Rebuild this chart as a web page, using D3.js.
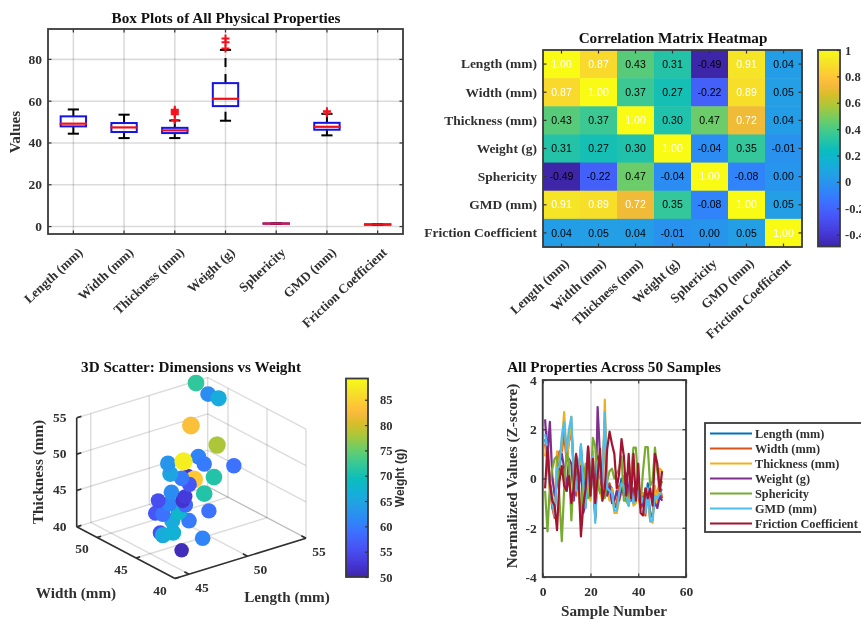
<!DOCTYPE html>
<html>
  <head>
    <meta charset="utf-8">
    <script src="https://d3js.org/d3.v7.min.js"></script>
    <title>Physical Properties Overview</title>
    <style>
      body { margin: 0px; background: #fff; }
      svg { display: block; filter: blur(0.5px); }
      text { font-family: "Liberation Serif", serif; font-weight: bold; fill: #303030; }
      .tick text { font-size: 13.5px; font-family: "Liberation Serif", serif; }
      .bar .tick text { font-size: 12.5px; }
      .title { font-size: 15.2px; fill: #111; text-anchor: middle; }
      .label { font-size: 15.2px; text-anchor: middle; }
      .domain { display: none; }
      .tick line { stroke: #333; stroke-width: 1.2; }
      .grid .tick line { stroke: #000; stroke-opacity: 0.14; stroke-width: 1.6; }
      .grid .tick text { display: none; }
      .frame { fill: none; stroke: #3a3a3a; stroke-width: 1.8; }
      .cell-text { font-family: "Liberation Sans", sans-serif; font-weight: normal; font-size: 10.5px; text-anchor: middle; }
    </style>
  </head>
  <body>
    <div id="viz"></div>
    <script>
      // property names
      const properties = ['Length (mm)', 'Width (mm)', 'Thickness (mm)', 'Weight (g)', 'Sphericity', 'GMD (mm)', 'Friction Coefficient'];

      // box plot summary, one entry per property
      const boxQ1 = [47.7, 45, 44.5, 57.4, 1.15, 46.1, 0.7];
      const boxMedian = [49, 47.2, 45.8, 60.9, 1.2, 47.5, 0.75];
      const boxQ3 = [52.5, 49.3, 47, 68.4, 1.25, 49.4, 0.8];
      const whiskerLow = [44.2, 42.1, 42.1, 50.4, 1.1, 43.4, 0.65];
      const whiskerHigh = [55.8, 53.3, 50.5, 84.3, 1.3, 53.7, 0.85];
      const boxOutliers = [[], [], [50.8, 53.5, 54.2, 55, 55.6], [85, 88, 89.8], [], [54, 55], []];
      const boxTicks = [0, 20, 40, 60, 80];

      // correlation matrix
      const corr = [
        [1.00, 0.87, 0.43, 0.31, -0.49, 0.91, 0.04],
        [0.87, 1.00, 0.37, 0.27, -0.22, 0.89, 0.05],
        [0.43, 0.37, 1.00, 0.30, 0.47, 0.72, 0.04],
        [0.31, 0.27, 0.30, 1.00, -0.04, 0.35, -0.01],
        [-0.49, -0.22, 0.47, -0.04, 1.00, -0.08, 0.00],
        [0.91, 0.89, 0.72, 0.35, -0.08, 1.00, 0.05],
        [0.04, 0.05, 0.04, -0.01, 0.00, 0.05, 1.00]
      ];
      const corrTicks = [-0.4, -0.2, 0, 0.2, 0.4, 0.6, 0.8, 1];

      // 3d scatter samples
      const scatterLength = [46.2, 46.1, 46.9, 48.3, 46.3, 49, 47.7, 48.6, 47.2, 47.5, 50.7, 48.2, 47.9, 49.3, 49.1, 49.2, 49.4, 51.1, 50.9, 50.9, 50.5, 50.7, 49.8, 50, 51.6, 52.2, 51.9, 53.7, 53.8, 51.8, 52.9, 53.7, 54.2, 53.8];
      const scatterWidth = [45.5, 45, 44.9, 43.2, 42.9, 46, 46.2, 46.7, 47.6, 47.1, 46, 47.3, 48.3, 46.9, 48.4, 47.1, 47.1, 47.2, 49, 48.2, 48.2, 49.5, 49.6, 50.2, 48.7, 47.6, 48.4, 47.3, 49.6, 50.9, 51.6, 50.6, 50, 52.3];
      const scatterThickness = [42, 42, 42, 41.5, 41, 42, 42.5, 43, 43, 43, 42.5, 44, 44, 43.5, 44.5, 44, 44.5, 44, 45.5, 45.5, 45, 45, 46, 47, 48, 45.5, 47, 46.5, 48, 46, 50, 54.5, 54, 55];
      const scatterWeight = [55, 66, 67, 61, 51, 60, 66, 68, 56, 59, 59, 61, 55, 58, 62, 52, 53, 71, 52, 84, 56, 60, 65, 63, 61, 71, 60, 59, 78, 88, 83, 62, 66, 72];
      const lengthTicks = [45, 50, 55];
      const widthTicks = [40, 45, 50];
      const thicknessTicks = [40, 45, 50, 55];
      const weightTicks = [50, 55, 60, 65, 70, 75, 80, 85];

      // z-scores per sample
      const zLength = [1.6,1.0,-0.1,-0.8,-1.3,0.2,0.7,1.4,1.9,1.2,1.7,2.1,0.4,-0.3,0.1,1.3,0.1,-0.9,0.3,-0.4,0.7,-1.5,0.9,0.4,-0.1,2.4,-0.2,-0.3,-0.4,-1.0,-1.2,-0.5,0.0,-0.1,-0.5,-0.9,-0.3,-0.8,-0.5,-0.3,-0.8,-0.6,-1.2,-0.2,-1.5,-1.5,-0.5,-0.6,-0.4,-0.5];
      const zWidth = [1.4,0.7,-0.4,-1.2,-1.6,0.6,1.1,1.1,1.8,0.7,1.5,1.9,0.5,-0.7,0.5,1.0,-0.4,-1.1,0.7,-0.8,1.0,-1.6,0.4,0.1,-0.5,2.2,-0.6,-0.2,-0.7,-1.1,-1.0,-0.3,-0.4,0.1,-0.9,-1.0,-0.7,-0.9,-0.3,-0.7,-1.2,-1.0,-1.5,-0.6,-1.6,-1.4,-0.9,-0.5,-0.3,-0.8];
      const zThickness = [0.9,1.9,-0.4,-0.7,-1.2,1.1,-0.1,1.5,2.7,0.8,1.5,2.5,-0.4,0.5,0.3,1.0,-0.7,-0.8,0.1,-0.9,1.1,-1.7,0.1,-0.5,-0.9,3.2,-0.5,-0.9,-0.4,-1.4,-1.4,-0.9,-0.6,-0.1,-0.6,-1.1,-0.2,-1.1,-1.0,-0.2,-0.7,-0.6,-1.0,-0.8,-1.7,-1.8,-0.3,-1.1,0.4,0.3];
      const zWeight = [2.4,0.9,2.3,0.1,-0.7,-0.2,0.6,1.0,0.4,-0.5,0.8,0.6,-0.9,0.9,-0.4,0.5,-1.4,-1.0,1.3,0.1,0.6,-1.6,2.9,0.9,-0.6,-0.2,-0.7,-0.3,-1.0,-0.9,-0.5,-0.9,-0.4,-0.7,0.2,-0.5,-0.9,-0.4,-0.6,-0.3,-1.0,-1.1,-0.5,-0.4,-0.6,-0.9,-1.0,-1.2,-0.7,-0.9];
      const zSphericity = [-0.5,-2.15,-0.3,0.4,0.8,0.9,-0.8,-2.55,-0.4,1.1,0.7,-1.7,0.2,0.9,-0.1,-1.7,-0.1,0.6,-0.8,-0.7,1.65,1.3,-0.2,-0.6,-0.3,-0.8,-0.1,0.3,0.4,0.0,0.2,0.4,0.9,-0.9,-0.9,-1.1,0.2,1.25,1.25,-0.2,-1.0,0.3,1.28,1.28,-0.3,-0.1,1.25,0.3,-0.4,-0.1];
      const zGmd = [1.8,1.2,-0.3,-1.0,-1.5,0.4,0.5,1.7,2.3,1.1,2.0,2.5,0.2,-0.5,0.3,1.4,-0.2,-1.2,0.5,-0.6,0.9,-1.8,0.7,0.2,-0.3,2.7,-0.4,-0.5,-0.6,-1.3,-1.3,-0.6,-0.2,-0.3,-0.7,-1.1,-0.5,-1.0,-0.7,-0.5,-1.0,-0.8,-1.4,-0.4,-1.75,-1.7,-0.7,-0.8,-0.6,-0.6];
      const zFriction = [-0.4,1.3,-0.2,-0.9,-1.1,-2.1,-0.1,0.5,-0.3,-0.5,0.1,-1.0,-0.4,1.0,0.1,-2.35,-1.1,-0.4,1.3,-0.7,0.8,-1.0,0.1,1.2,-0.9,-0.4,1.2,1.9,1.4,1.0,-0.4,0.2,1.6,0.9,-0.7,1.0,-0.8,1.0,-0.9,0.6,-1.4,-1.5,-0.4,-0.8,-0.4,-1.1,1.0,0.6,-0.5,0.3];
      const lineColors = ['#0072BD', '#D95319', '#EDB120', '#7E2F8E', '#77AC30', '#4DBEEE', '#A2142F'];

      // parula colormap samples
      const parulaStops = [
        [0.2422,0.1504,0.6603],[0.2706,0.2147,0.8364],[0.2810,0.3228,0.9579],[0.2440,0.4358,0.9988],
        [0.1786,0.5289,0.9682],[0.1380,0.6276,0.8973],[0.0689,0.6948,0.8394],[0.0433,0.7411,0.7394],
        [0.2161,0.7843,0.5923],[0.3909,0.8029,0.4354],[0.6720,0.7793,0.2227],[0.8634,0.7406,0.1596],
        [0.9728,0.7298,0.2394],[0.9970,0.7659,0.2199],[0.9786,0.8386,0.1766],[0.9597,0.9135,0.1423],[0.9769,0.9839,0.0805]
      ];
      const parulaPos = [0, 4, 9, 14, 18, 23, 27, 31, 36, 40, 45, 49, 52, 54, 57, 60, 63].map(i => i / 63);
      const parula = d3.scaleLinear()
        .domain(parulaPos)
        .range(parulaStops.map(c => d3.rgb(c[0] * 255, c[1] * 255, c[2] * 255)))
        .interpolate(d3.interpolateRgb);

      const svg = d3.select('#viz').append('svg')
        .attr('width', 861)
        .attr('height', 619);

      // band scales have no tick list of their own, so ticks stays null for them
      const axisOf = (fn, scale, ticks) => {
        const a = fn(scale);
        return ticks ? a.tickValues(ticks) : a;
      };

      // grid lines behind a 2d axes
      const axesGrid = (x, y, xTicks, yTicks) => {
        const [x0, x1] = x.range();
        const [y0, y1] = d3.extent(y.range());
        const g = svg.append('g');
        g.append('g').attr('class', 'grid').attr('transform', `translate(0,${y1})`)
          .call(axisOf(d3.axisBottom, x, xTicks).tickSize(-(y1 - y0)).tickFormat(''));
        g.append('g').attr('class', 'grid').attr('transform', `translate(${x0},0)`)
          .call(axisOf(d3.axisLeft, y, yTicks).tickSize(-(x1 - x0)).tickFormat(''));
        return g;
      };

      // box outline, labels and inward ticks on all four sides
      const axesTicks = (g, x, y, xTicks, yTicks) => {
        const [x0, x1] = x.range();
        const [y0, y1] = d3.extent(y.range());
        const b = g.append('g').attr('transform', `translate(0,${y1})`)
          .call(axisOf(d3.axisBottom, x, xTicks).tickSizeInner(-3.5).tickSizeOuter(0).tickPadding(9).tickFormat(d => d));
        const l = g.append('g').attr('transform', `translate(${x0},0)`)
          .call(axisOf(d3.axisLeft, y, yTicks).tickSizeInner(-3.5).tickSizeOuter(0).tickPadding(6).tickFormat(d => d));
        g.append('g').attr('transform', `translate(0,${y0})`)
          .call(axisOf(d3.axisTop, x, xTicks).tickSizeInner(-3.5).tickSizeOuter(0).tickFormat(''));
        g.append('g').attr('transform', `translate(${x1},0)`)
          .call(axisOf(d3.axisRight, y, yTicks).tickSizeInner(-3.5).tickSizeOuter(0).tickFormat(''));
        g.append('rect').attr('class', 'frame')
          .attr('x', x0).attr('y', y0).attr('width', x1 - x0).attr('height', y1 - y0);
        return { b, l };
      };

      const slantLabels = (sel, dx, dy) => {
        sel.selectAll('text')
          .attr('text-anchor', 'end')
          .style('font-size', '13.2px')
          .attr('transform', `translate(${dx},${dy}) rotate(-43)`)
          .attr('x', 0).attr('y', 0).attr('dy', '0.35em');
      };

      /* ---- box plots ---- */
      const boxX = d3.scaleBand().domain(properties).range([48, 403]);
      const boxY = d3.scaleLinear().domain([-3.8, 94.3]).range([234, 29]);
      const boxG = axesGrid(boxX, boxY, null, boxTicks);

      properties.forEach((p, i) => {
        const cx = boxX(p) + boxX.bandwidth() / 2;
        const hw = boxX.bandwidth() / 4;
        const cap = hw * 0.44;
        const whisk = boxG.append('g').attr('stroke', '#000').attr('stroke-width', 2);
        whisk.append('line').attr('x1', cx).attr('x2', cx)
          .attr('y1', boxY(boxQ3[i])).attr('y2', boxY(whiskerHigh[i]))
          .attr('stroke-dasharray', '9 7');
        whisk.append('line').attr('x1', cx).attr('x2', cx)
          .attr('y1', boxY(whiskerLow[i])).attr('y2', boxY(boxQ1[i]))
          .attr('stroke-dasharray', '9 7');
        [whiskerLow[i], whiskerHigh[i]].forEach(v => {
          whisk.append('line').attr('x1', cx - cap).attr('x2', cx + cap)
            .attr('y1', boxY(v)).attr('y2', boxY(v));
        });
        boxG.append('rect')
          .attr('x', cx - hw).attr('width', hw * 2)
          .attr('y', boxY(boxQ3[i])).attr('height', boxY(boxQ1[i]) - boxY(boxQ3[i]))
          .attr('fill', 'none').attr('stroke', '#1414e6').attr('stroke-width', 2);
        boxG.append('line')
          .attr('x1', cx - hw - 1).attr('x2', cx + hw + 1)
          .attr('y1', boxY(boxMedian[i])).attr('y2', boxY(boxMedian[i]))
          .attr('stroke', '#f0101c').attr('stroke-width', 2.2);
        boxOutliers[i].forEach(v => {
          const oy = boxY(v);
          boxG.append('path')
            .attr('d', `M${cx - 4},${oy}H${cx + 4}M${cx},${oy - 4}V${oy + 4}`)
            .attr('stroke', '#f5101c').attr('stroke-width', 2);
        });
      });
      const boxAxes = axesTicks(boxG, boxX, boxY, null, boxTicks);
      slantLabels(boxAxes.b, 7, 16);
      svg.append('text').attr('class', 'title').attr('x', 226).attr('y', 23).text('Box Plots of All Physical Properties');
      svg.append('text').attr('class', 'label').attr('transform', 'translate(20,132) rotate(-90)').text('Values');

      /* ---- correlation heatmap ---- */
      const heatX = d3.scaleBand().domain(properties).range([543, 802]);
      const heatY = d3.scaleBand().domain(properties).range([50, 247]);
      const heatColor = d3.scaleLinear().domain([-0.49, 1]).range([0, 1]);
      const heatG = svg.append('g');
      corr.forEach((row, r) => row.forEach((v, c) => {
        heatG.append('rect')
          .attr('x', heatX(properties[c])).attr('y', heatY(properties[r]))
          .attr('width', heatX.bandwidth() + 0.5).attr('height', heatY.bandwidth() + 0.5)
          .attr('fill', parula(heatColor(v)));
        heatG.append('text').attr('class', 'cell-text')
          .attr('x', heatX(properties[c]) + heatX.bandwidth() / 2)
          .attr('y', heatY(properties[r]) + heatY.bandwidth() / 2)
          .attr('dy', '0.35em')
          .style('fill', v > 0.5 ? '#fff' : '#000')
          .text(v.toFixed(2));
      }));
      const heatAxes = axesTicks(heatG, heatX, heatY, null, null);
      slantLabels(heatAxes.b, 5, 14);
      svg.append('text').attr('class', 'title').attr('x', 673).attr('y', 43).text('Correlation Matrix Heatmap');

      // vertical colorbar sharing parula
      const colorBar = (id, x0, x1, scale, ticks, pad) => {
        const [y1, y0] = scale.range();
        const grad = svg.append('defs').append('linearGradient').attr('id', id)
          .attr('x1', 0).attr('x2', 0).attr('y1', 1).attr('y2', 0);
        parulaPos.forEach(t => grad.append('stop').attr('offset', t).attr('stop-color', parula(t)));
        const g = svg.append('g').attr('class', 'bar');
        g.append('rect').attr('x', x0).attr('y', y0).attr('width', x1 - x0).attr('height', y1 - y0)
          .attr('fill', `url(#${id})`).attr('stroke', '#3a3a3a').attr('stroke-width', 1.8);
        g.append('g').attr('transform', `translate(${x1},0)`)
          .call(d3.axisRight(scale).tickValues(ticks).tickSizeInner(-3).tickSizeOuter(0).tickPadding(pad).tickFormat(d => d));
      };
      colorBar('corr-grad', 818, 840, d3.scaleLinear().domain([-0.49, 1]).range([246.5, 50]), corrTicks, 5);

      /* ---- 3d scatter ---- */
      const lenX = d3.scaleLinear().domain([43.8, 55]).range([0, 131]);
      const lenY = d3.scaleLinear().domain([43.8, 55]).range([0, -40.3]);
      const widX = d3.scaleLinear().domain([40, 52.6]).range([0, -98.3]);
      const widY = d3.scaleLinear().domain([40, 52.6]).range([0, -51.7]);
      const thkY = d3.scaleLinear().domain([40, 55]).range([0, -109]);
      const project = (l, w, t) => [175 + lenX(l) + widX(w), 578.5 + lenY(l) + widY(w) + thkY(t)];
      const [lMin, lMax] = lenX.domain();
      const [wMin, wMax] = widX.domain();
      const [tMin, tMax] = thkY.domain();
      const seg = (g, a, b) => g.append('line')
        .attr('x1', a[0]).attr('y1', a[1]).attr('x2', b[0]).attr('y2', b[1]);

      const wallG = svg.append('g').attr('stroke', '#000').attr('stroke-opacity', 0.14).attr('stroke-width', 1.4);
      lengthTicks.forEach(l => {
        seg(wallG, project(l, wMin, tMin), project(l, wMax, tMin));
        seg(wallG, project(l, wMax, tMin), project(l, wMax, tMax));
      });
      widthTicks.forEach(w => {
        seg(wallG, project(lMin, w, tMin), project(lMax, w, tMin));
        seg(wallG, project(lMax, w, tMin), project(lMax, w, tMax));
      });
      thicknessTicks.forEach(t => {
        seg(wallG, project(lMin, wMax, t), project(lMax, wMax, t));
        seg(wallG, project(lMax, wMax, t), project(lMax, wMin, t));
      });

      // marker size follows weight as well as colour
      const weightColor = d3.scaleLinear().domain([50, 89.2]).range([0, 1]);
      const weightSize = d3.scaleSqrt().domain([50, 89.2]).range([7.2, 9.2]);
      svg.append('g').selectAll('circle').data(scatterWeight).enter().append('circle')
        .attr('cx', (d, i) => project(scatterLength[i], scatterWidth[i], scatterThickness[i])[0])
        .attr('cy', (d, i) => project(scatterLength[i], scatterWidth[i], scatterThickness[i])[1])
        .attr('r', d => weightSize(d))
        .attr('fill', d => parula(weightColor(d)));

      const edgeG = svg.append('g').attr('stroke', '#2f2f2f').attr('stroke-width', 1.6);
      seg(edgeG, project(lMin, wMin, tMin), project(lMax, wMin, tMin));
      seg(edgeG, project(lMin, wMin, tMin), project(lMin, wMax, tMin));
      seg(edgeG, project(lMin, wMax, tMin), project(lMin, wMax, tMax));
      lengthTicks.forEach(l => seg(edgeG, project(l, wMin, tMin), project(l, wMin + 0.6, tMin)));
      widthTicks.forEach(w => seg(edgeG, project(lMin, w, tMin), project(lMin + 0.35, w, tMin)));
      thicknessTicks.forEach(t => seg(edgeG, project(lMin, wMax, t), project(lMin + 0.4, wMax, t)));

      const tick3d = (p, dx, dy, txt) => svg.append('text')
        .attr('x', p[0] + dx).attr('y', p[1] + dy).attr('text-anchor', 'middle')
        .style('font-size', '13.5px').text(txt);
      lengthTicks.forEach(l => tick3d(project(l, wMin, tMin), 13, 18, l));
      widthTicks.forEach(w => tick3d(project(lMin, w, tMin), -15, 16, w));
      thicknessTicks.forEach(t => tick3d(project(lMin, wMax, t), -17, 4, t));
      svg.append('text').attr('class', 'title').attr('x', 191).attr('y', 372).text('3D Scatter: Dimensions vs Weight');
      svg.append('text').attr('class', 'label').attr('x', 76).attr('y', 598).text('Width (mm)');
      svg.append('text').attr('class', 'label').attr('x', 287).attr('y', 602).text('Length (mm)');
      svg.append('text').attr('class', 'label').attr('transform', 'translate(43,472) rotate(-90)').text('Thickness (mm)');

      colorBar('weight-grad', 346, 368, d3.scaleLinear().domain([50, 89.2]).range([577, 378.5]), weightTicks, 12);
      svg.append('text').attr('class', 'label').attr('transform', 'translate(404,478) rotate(-90)')
        .style('font-family', '"Liberation Sans", sans-serif').style('font-size', '12px').text('Weight (g)');

      /* ---- z-score lines ---- */
      const series = [zLength, zWidth, zThickness, zWeight, zSphericity, zGmd, zFriction];
      const lineX = d3.scaleLinear().domain([0, 60]).range([542.7, 686]);
      const lineY = d3.scaleLinear().domain([-4, 4]).range([577, 380]);
      const lineXTicks = [0, 20, 40, 60];
      const lineYTicks = [-4, -2, 0, 2, 4];
      const lineG = axesGrid(lineX, lineY, lineXTicks, lineYTicks);
      const lineGen = d3.line().x((d, i) => lineX(i + 1)).y(d => lineY(d));
      series.forEach((s, i) => {
        lineG.append('path').datum(s).attr('d', lineGen)
          .attr('fill', 'none').attr('stroke', lineColors[i]).attr('stroke-width', 2.2).attr('stroke-linejoin', 'round');
      });
      axesTicks(lineG, lineX, lineY, lineXTicks, lineYTicks);
      svg.append('text').attr('class', 'title').attr('x', 614).attr('y', 372).text('All Properties Across 50 Samples');
      svg.append('text').attr('class', 'label').attr('x', 614).attr('y', 616).text('Sample Number');
      svg.append('text').attr('class', 'label').attr('transform', 'translate(517,476) rotate(-90)').text('Normalized Values (Z-score)');

      /* ---- legend ---- */
      const legendY = d3.scalePoint().domain(properties).range([433.5, 523.5]);
      const legendG = svg.append('g');
      legendG.append('rect').attr('class', 'frame').attr('x', 705).attr('y', 423).attr('width', 170).attr('height', 109);
      properties.forEach((p, i) => {
        legendG.append('line').attr('x1', 710).attr('x2', 752)
          .attr('y1', legendY(p)).attr('y2', legendY(p))
          .attr('stroke', lineColors[i]).attr('stroke-width', 2);
        legendG.append('text').attr('x', 755).attr('y', legendY(p)).attr('dy', '0.33em')
          .style('font-size', '12.3px').text(p);
      });
    </script>
  </body>
</html>
